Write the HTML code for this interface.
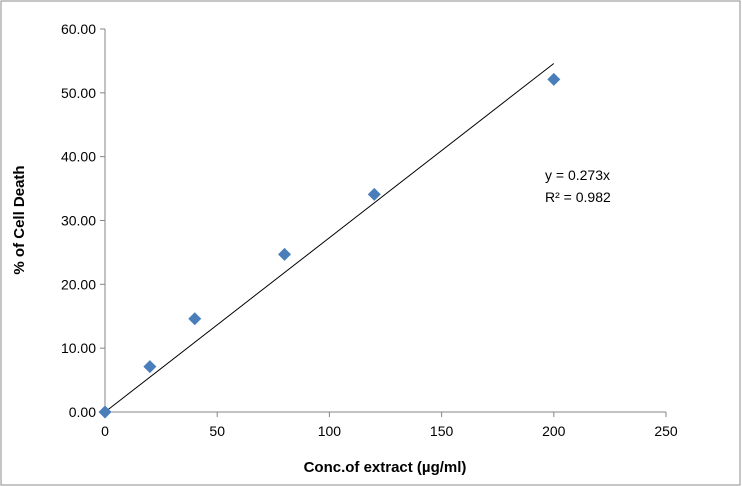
<!DOCTYPE html>
<html><head><meta charset="utf-8"><style>
html,body{margin:0;padding:0;background:#fff;}
svg{display:block;font-family:"Liberation Sans",sans-serif;}
</style></head><body>
<svg width="742" height="487">
<rect x="1" y="1" width="739" height="484" fill="#fff" stroke="#8c8c8c" stroke-width="1"/>
<g id="axes"></g>
<g id="marks"></g>
<text x="545" y="180" font-size="14" fill="#000">y = 0.273x</text>
<text x="545" y="202" font-size="14" fill="#000">R² = 0.982</text>
<text x="385" y="472" font-size="15" font-weight="bold" text-anchor="middle">Conc.of extract (µg/ml)</text>
<text transform="translate(24,220) rotate(-90)" font-size="15" font-weight="bold" text-anchor="middle">% of Cell Death</text>
</svg>
<script>
const xTicks=[0,50,100,150,200,250];
const yTicks=[0,10,20,30,40,50,60];
const xValues=[0,20,40,80,120,200];
const yValues=[0,7.1,14.6,24.7,34.1,52.1];
const slope=0.273;
const trendRange=[0,200];
const X0=105,X1=666,Y0=412,Y1=29;
const xs=v=>X0+(v-0)/(250)*(X1-X0);
const ys=v=>Y0-(v/60)*(Y0-Y1);
const NS="http://www.w3.org/2000/svg";
const axes=document.getElementById('axes'),marks=document.getElementById('marks');
function mk(tag,attrs,parent){const e=document.createElementNS(NS,tag);for(const k in attrs)e.setAttribute(k,attrs[k]);parent.appendChild(e);return e;}
let l=mk('line',{x1:X0,y1:Y1,x2:X0,y2:Y0,stroke:'#868686'},axes);


l=mk('line',{x1:X0,y1:Y0,x2:X1,y2:Y0,stroke:'#868686'},axes);


yTicks.forEach(v=>{const y=ys(v);
 mk('line',{x1:X0-5,y1:y,x2:X0,y2:y,stroke:'#868686'},axes);
 const t=mk('text',{x:X0-9,y:y+5,'font-size':14,'text-anchor':'end'},axes);t.textContent=v.toFixed(2);
 
 });
xTicks.forEach(v=>{const x=xs(v);
 mk('line',{x1:x,y1:Y0,x2:x,y2:Y0+5,stroke:'#868686'},axes);
 const t=mk('text',{x:x,y:Y0+24,'font-size':14,'text-anchor':'middle'},axes);t.textContent=v;
 
 });
const tl=mk('line',{x1:xs(trendRange[0]),y1:ys(slope*trendRange[0]),x2:xs(trendRange[1]),y2:ys(slope*trendRange[1]),stroke:'#000','stroke-width':1},marks);


xValues.forEach((v,i)=>{const x=xs(v),y=ys(yValues[i]);
 const p=mk('polygon',{points:`${x},${y-6.5} ${x+6.5},${y} ${x},${y+6.5} ${x-6.5},${y}`,fill:'#4a7ebb'},marks);
 
 });
</script>
</body></html>
